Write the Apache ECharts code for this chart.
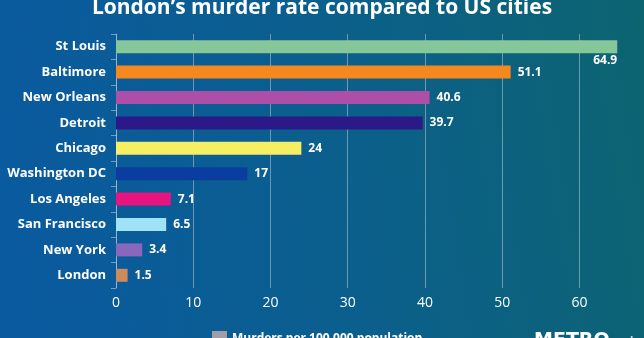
<!DOCTYPE html>
<html>
<head>
<meta charset="utf-8">
<script src="https://cdn.jsdelivr.net/npm/echarts@6/dist/echarts.min.js"></script>
<style>
  html, body { margin: 0; padding: 0; }
  #chart { width: 644px; height: 338px; }
</style>
</head>
<body>
<div id="chart"></div>
<script>
// Murders per 100,000 population, top to bottom
const cities = ['St Louis', 'Baltimore', 'New Orleans', 'Detroit', 'Chicago',
  'Washington DC', 'Los Angeles', 'San Francisco', 'New York', 'London'];
const rates = [64.9, 51.1, 40.6, 39.7, 24, 17, 7.1, 6.5, 3.4, 1.5];
const barColors = ['#86c79a', '#f5891f', '#ad4fa8', '#2c1988', '#f6ef63',
  '#0b3c9f', '#e8147f', '#9fe3f6', '#8867bd', '#cf8a5c'];
const xTicks = [0, 10, 20, 30, 40, 50, 60];

const FONT = '"Open Sans", "Noto Sans", sans-serif';
const chart = echarts.init(document.getElementById('chart'), null, { renderer: 'canvas' });

const data = rates.map((v, i) => {
  const item = { value: v, itemStyle: { color: barColors[i] } };
  if (i === 0) {
    // longest bar: value sits under the bar's end
    item.label = { position: 'insideRight', distance: 0, offset: [0, 14] };
  }
  return item;
});

// grid lines at the labelled ticks only (none at the axis end, 65)
const gridLine = 'rgba(190,200,210,0.55)';
const splitColors = xTicks.map(() => gridLine).concat(['rgba(0,0,0,0)']);

chart.setOption({
  backgroundColor: {
    type: 'linear', x: 0, y: 0.3, x2: 1, y2: 0,
    colorStops: [
      { offset: 0, color: '#0a5a9f' },
      { offset: 0.5, color: '#0b5f8c' },
      { offset: 1, color: '#0c6470' }
    ]
  },
  textStyle: { fontFamily: FONT },
  title: {
    text: 'London\u2019s murder rate compared to US cities',
    left: 'center',
    top: -7,
    textStyle: { color: '#ffffff', fontSize: 21, fontWeight: 'bold', fontFamily: FONT }
  },
  legend: {
    left: 207,
    top: 326,
    itemWidth: 15,
    itemHeight: 15,
    itemGap: 8,
    icon: 'rect',
    textStyle: { color: '#ffffff', fontSize: 12, fontWeight: 'bold', fontFamily: FONT },
    data: ['Murders per 100,000 population']
  },
  grid: { left: 116, right: 26, top: 34, bottom: 50, containLabel: false },
  xAxis: {
    type: 'value',
    min: 0,
    max: 65,
    interval: 10,
    axisLine: { show: false },
    axisTick: { show: false },
    axisLabel: {
      color: '#ffffff', fontSize: 14, margin: 8, fontFamily: FONT,
      formatter: v => (xTicks.includes(v) ? String(v) : '')
    },
    splitLine: { show: true, lineStyle: { color: splitColors, width: 1 } }
  },
  yAxis: {
    type: 'category',
    inverse: true,
    data: cities,
    axisLine: { show: true, lineStyle: { color: 'rgba(190,200,210,0.6)', width: 1 } },
    axisTick: { show: true, length: 5, lineStyle: { color: 'rgba(190,200,210,0.6)' } },
    axisLabel: { color: '#ffffff', fontSize: 13, fontWeight: 'bold', margin: 10, fontFamily: FONT }
  },
  series: [{
    name: 'Murders per 100,000 population',
    type: 'bar',
    barWidth: 13,
    itemStyle: { color: '#a59da6' },
    label: {
      show: true,
      position: 'right',
      distance: 7,
      color: '#ffffff',
      fontSize: 12,
      fontWeight: 'bold',
      fontFamily: FONT
    },
    data: data
  }],
  graphic: [{
    type: 'text',
    left: 534,
    top: 332,
    style: { text: 'METRO', fill: '#ffffff', font: '900 19px "DejaVu Sans", sans-serif' }
  }, {
    type: 'text',
    left: 604,
    top: 335,
    style: { text: '.co.uk', fill: 'rgba(255,255,255,0.75)', font: 'bold 11px "Open Sans", sans-serif' }
  }],
  animation: false
});
</script>
</body>
</html>
